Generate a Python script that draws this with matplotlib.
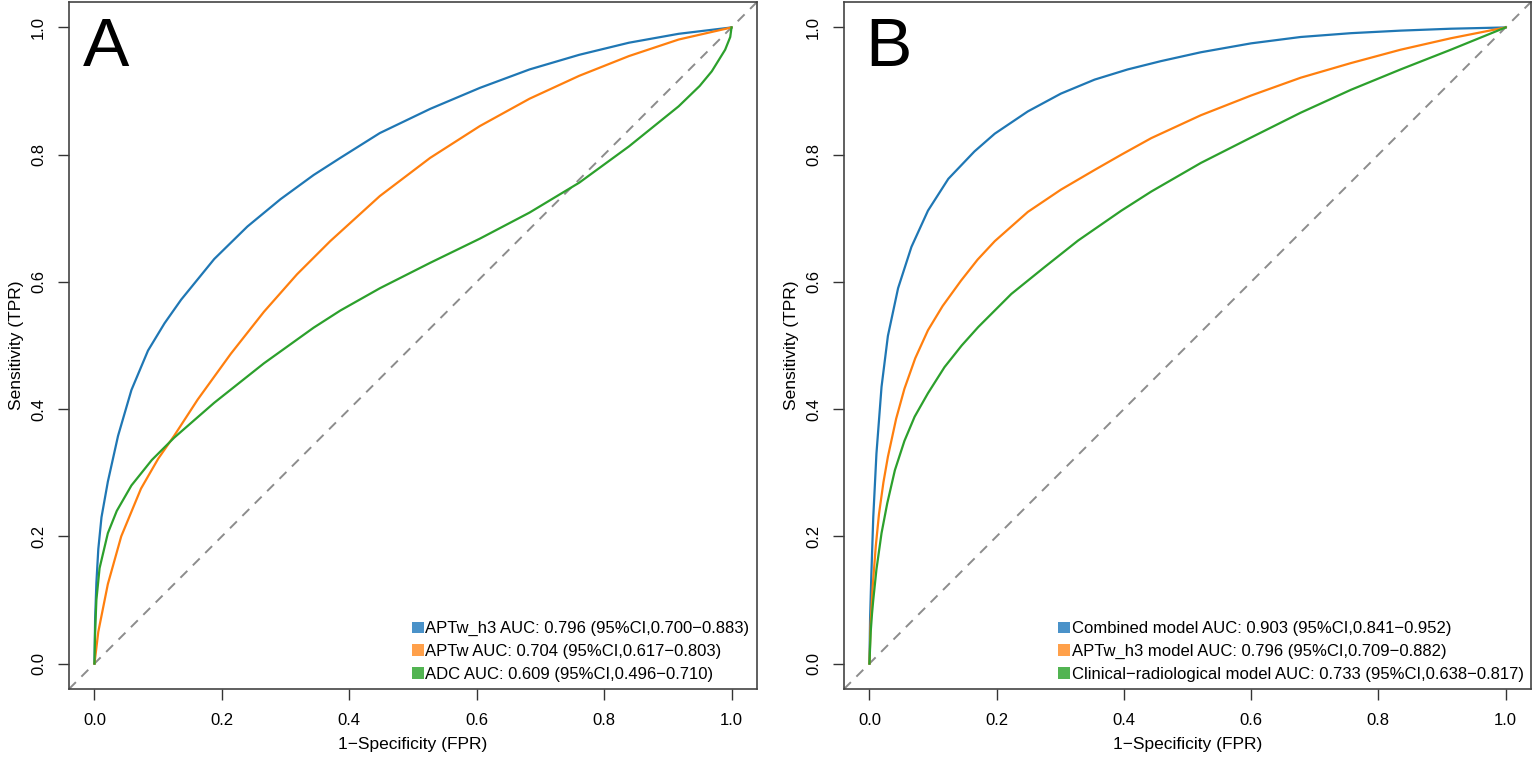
import matplotlib
matplotlib.use("Agg")
import matplotlib.pyplot as plt
from matplotlib.patches import Patch

plt.rcParams['font.family'] = ['Liberation Sans', 'DejaVu Sans']

# ---------------- data ----------------
# Panel A
a_blue_fpr = [0, 0.001, 0.003, 0.006, 0.011, 0.021, 0.037, 0.058, 0.084, 0.11, 0.136, 0.188,
              0.24, 0.292, 0.344, 0.386, 0.448, 0.527, 0.605, 0.683, 0.761, 0.839, 0.917, 1.0]
a_blue_tpr = [0, 0.07, 0.127, 0.18, 0.23, 0.286, 0.358, 0.43, 0.492, 0.535, 0.572, 0.636,
              0.687, 0.730, 0.768, 0.795, 0.834, 0.872, 0.905, 0.934, 0.957, 0.976, 0.990, 1.0]

a_orange_fpr = [0, 0.006, 0.021, 0.042, 0.073, 0.10, 0.125, 0.162, 0.214, 0.266, 0.318, 0.37,
                0.448, 0.527, 0.605, 0.683, 0.761, 0.839, 0.917, 1.0]
a_orange_tpr = [0, 0.05, 0.125, 0.20, 0.275, 0.322, 0.358, 0.415, 0.487, 0.553, 0.612, 0.664,
                0.735, 0.795, 0.845, 0.888, 0.924, 0.955, 0.981, 1.0]

a_green_fpr = [0, 0.001, 0.003, 0.008, 0.021, 0.035, 0.058, 0.09, 0.125, 0.188, 0.266, 0.344,
               0.386, 0.448, 0.527, 0.605, 0.683, 0.761, 0.839, 0.917, 0.95, 0.969, 0.990,
               0.998, 1.0]
a_green_tpr = [0, 0.05, 0.10, 0.15, 0.205, 0.24, 0.28, 0.32, 0.355, 0.410, 0.472, 0.528,
               0.555, 0.590, 0.630, 0.668, 0.709, 0.756, 0.813, 0.876, 0.908, 0.931, 0.965,
               0.985, 1.0]

a_labels = ["APTw_h3 AUC: 0.796 (95%CI,0.700\u22120.883)",
            "APTw AUC: 0.704 (95%CI,0.617\u22120.803)",
            "ADC AUC: 0.609 (95%CI,0.496\u22120.710)"]

# Panel B
b_blue_fpr = [0, 0.001, 0.003, 0.006, 0.011, 0.019, 0.029, 0.045, 0.066, 0.092, 0.124, 0.165,
              0.197, 0.249, 0.301, 0.354, 0.406, 0.458, 0.521, 0.600, 0.678, 0.757, 0.835,
              0.914, 1.0]
b_blue_tpr = [0, 0.07, 0.14, 0.23, 0.33, 0.435, 0.515, 0.59, 0.655, 0.712, 0.762, 0.805,
              0.833, 0.868, 0.896, 0.918, 0.934, 0.947, 0.961, 0.975, 0.985, 0.991, 0.995,
              0.998, 1.0]

b_orange_fpr = [0, 0.002, 0.005, 0.01, 0.015, 0.022, 0.029, 0.042, 0.055, 0.072, 0.092, 0.115,
                0.144, 0.17, 0.197, 0.249, 0.301, 0.354, 0.396, 0.443, 0.521, 0.600, 0.678,
                0.757, 0.835, 0.914, 1.0]
b_orange_tpr = [0, 0.065, 0.12, 0.185, 0.235, 0.285, 0.325, 0.385, 0.432, 0.48, 0.524, 0.562,
                0.602, 0.635, 0.664, 0.71, 0.745, 0.776, 0.800, 0.826, 0.862, 0.893, 0.921,
                0.944, 0.965, 0.983, 1.0]

b_green_fpr = [0, 0.002, 0.004, 0.006, 0.011, 0.019, 0.028, 0.040, 0.055, 0.071, 0.092, 0.118,
               0.145, 0.171, 0.223, 0.275, 0.328, 0.396, 0.443, 0.521, 0.600, 0.678, 0.757,
               0.835, 0.914, 1.0]
b_green_tpr = [0, 0.05, 0.078, 0.10, 0.148, 0.205, 0.252, 0.304, 0.35, 0.388, 0.425, 0.466,
               0.5, 0.529, 0.581, 0.623, 0.665, 0.712, 0.742, 0.787, 0.827, 0.866, 0.902,
               0.934, 0.965, 1.0]

b_labels = ["Combined model AUC: 0.903 (95%CI,0.841\u22120.952)",
            "APTw_h3 model AUC: 0.796 (95%CI,0.709\u22120.882)",
            "Clinical\u2212radiological model AUC: 0.733 (95%CI,0.638\u22120.817)"]

ticks = [0.0, 0.2, 0.4, 0.6, 0.8, 1.0]
tick_labels = ["0.0", "0.2", "0.4", "0.6", "0.8", "1.0"]
panel_letters = ["A", "B"]

colors = ["#1f77b4", "#ff7f0e", "#2ca02c"]
fills = ["#4a92c9", "#ffa04a", "#52b452"]

# ---------------- figure ----------------
fig = plt.figure(figsize=(15.36, 7.64), dpi=100)
W, H = 1536, 764
axA = fig.add_axes([69 / W, (H - 689) / H, (757 - 69) / W, (689 - 2) / H])
axB = fig.add_axes([844 / W, (H - 689) / H, (1531 - 844) / W, (689 - 2) / H])

panels = [
    (axA, [(a_blue_fpr, a_blue_tpr), (a_orange_fpr, a_orange_tpr), (a_green_fpr, a_green_tpr)], a_labels, -0.018),
    (axB, [(b_blue_fpr, b_blue_tpr), (b_orange_fpr, b_orange_tpr), (b_green_fpr, b_green_tpr)], b_labels, -0.006),
]

for i, (ax, curves, labels, lx) in enumerate(panels):
    ax.plot([-0.04, 1.04], [-0.04, 1.04], color="#8c8c8c", lw=1.4,
            dashes=(5, 4), zorder=1)
    for (fx, ty), c in zip(curves, colors):
        ax.plot(fx, ty, color=c, lw=1.6, zorder=3, solid_joinstyle='round')
    ax.set_xlim(-0.04, 1.04)
    ax.set_ylim(-0.04, 1.04)
    ax.set_xticks(ticks)
    ax.set_xticklabels(tick_labels)
    ax.set_yticks(ticks)
    ax.set_yticklabels(tick_labels, rotation=90, va='center')
    ax.tick_params(direction='out', length=8, width=1.0, color="#333333",
                   labelsize=12)
    ax.tick_params(axis='x', pad=9.5)
    ax.tick_params(axis='y', pad=8.5)
    for s in ax.spines.values():
        s.set_color("#444444")
        s.set_linewidth(1.2)
    ax.set_xlabel("1\u2212Specificity (FPR)", fontsize=12.5, labelpad=6)
    ax.set_ylabel("Sensitivity (TPR)", fontsize=12.5, labelpad=5)
    ax.text(lx, 0.939, panel_letters[i], fontsize=50, ha='left', va='baseline',
            family=['Liberation Sans', 'DejaVu Sans'])
    handles = [Patch(facecolor=f, edgecolor='none') for f in fills]
    ax.legend(handles, labels, loc='lower right', bbox_to_anchor=(1.0, 0.0),
              frameon=False, fontsize=12, handlelength=0.7, handleheight=0.7,
              handletextpad=0.1, labelspacing=0.45, borderaxespad=0.0,
              borderpad=0.45)

fig.savefig("out.png", dpi=100)
